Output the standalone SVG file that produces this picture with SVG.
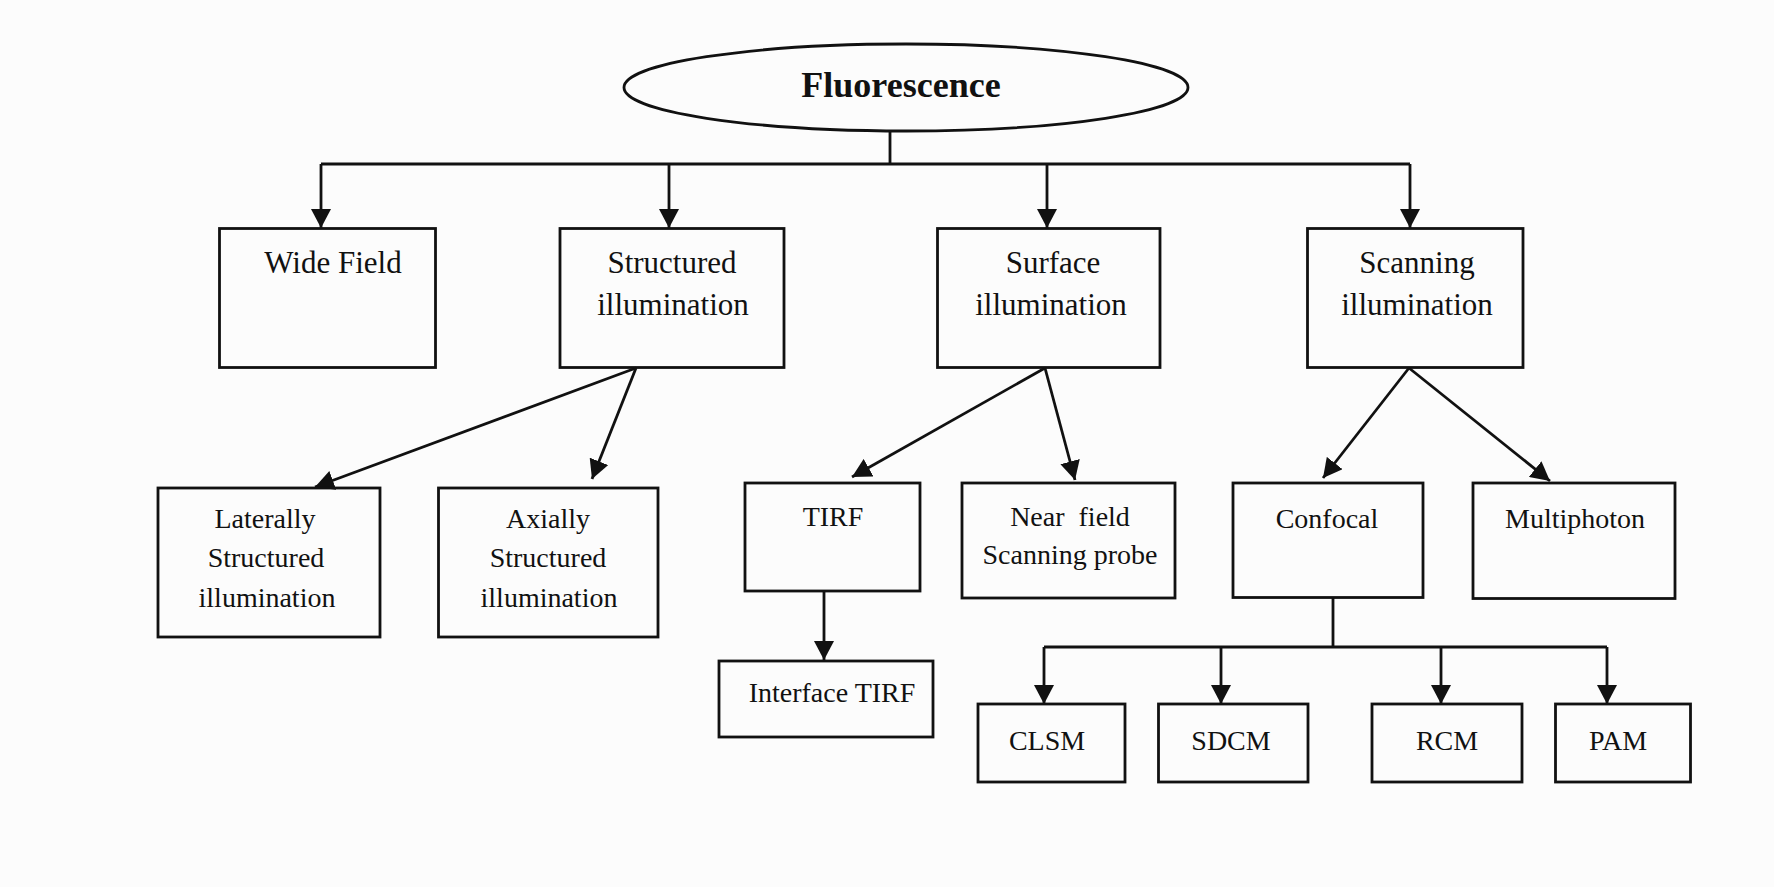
<svg xmlns="http://www.w3.org/2000/svg" width="1774" height="887" viewBox="0 0 1774 887">
<style>
.box{fill:none;stroke:#111;stroke-width:2.8}
.ln{fill:none;stroke:#111;stroke-width:2.8}
.t1{font-family:"Liberation Serif","Times New Roman",serif;font-size:31px;fill:#111;text-anchor:middle}
.t2{font-family:"Liberation Serif","Times New Roman",serif;font-size:28px;fill:#111;text-anchor:middle;white-space:pre}
.t0{font-family:"Liberation Serif","Times New Roman",serif;font-size:36px;font-weight:bold;fill:#111;text-anchor:middle}
</style>
<defs>
<marker id="ah" markerUnits="userSpaceOnUse" viewBox="0 0 19 20" markerWidth="19" markerHeight="20" refX="19" refY="10" orient="auto">
<path d="M0,0 L19,10 L0,20 z" fill="#111"/>
</marker>
</defs>
<rect width="1774" height="887" fill="#fcfcfc"/>
<g id="connectors">
<path class="ln" d="M890,131 V164"/>
<path class="ln" d="M321,164 H1410"/>
<path class="ln" d="M321,164 V228" marker-end="url(#ah)"/>
<path class="ln" d="M669,164 V228" marker-end="url(#ah)"/>
<path class="ln" d="M1047,164 V228" marker-end="url(#ah)"/>
<path class="ln" d="M1410,164 V228" marker-end="url(#ah)"/>
<path class="ln" d="M636,368 L315,487" marker-end="url(#ah)"/>
<path class="ln" d="M636,368 L592,479" marker-end="url(#ah)"/>
<path class="ln" d="M1045,368 L852,477" marker-end="url(#ah)"/>
<path class="ln" d="M1045,368 L1075,480" marker-end="url(#ah)"/>
<path class="ln" d="M1409,368 L1323,478" marker-end="url(#ah)"/>
<path class="ln" d="M1409,368 L1550,481" marker-end="url(#ah)"/>
<path class="ln" d="M824,591 V660" marker-end="url(#ah)"/>
<path class="ln" d="M1333,598 V647"/>
<path class="ln" d="M1044,647 H1607"/>
<path class="ln" d="M1044,647 V704" marker-end="url(#ah)"/>
<path class="ln" d="M1221,647 V704" marker-end="url(#ah)"/>
<path class="ln" d="M1441,647 V704" marker-end="url(#ah)"/>
<path class="ln" d="M1607,647 V704" marker-end="url(#ah)"/>
</g>
<g id="fluorescence">
<ellipse class="box" cx="906" cy="87.5" rx="282" ry="43.5"/>
<text class="t0" x="901" y="97">Fluorescence</text>
</g>
<g id="wide-field">
<rect class="box" x="219.5" y="228.5" width="216" height="139"/>
<text class="t1" x="333" y="273">Wide Field</text>
</g>
<g id="structured">
<rect class="box" x="560" y="228.5" width="224" height="139"/>
<text class="t1" x="672" y="273">Structured</text>
<text class="t1" x="673" y="315">illumination</text>
</g>
<g id="surface">
<rect class="box" x="937.5" y="228.5" width="222.5" height="139"/>
<text class="t1" x="1053" y="273">Surface</text>
<text class="t1" x="1051" y="315">illumination</text>
</g>
<g id="scanning">
<rect class="box" x="1307.5" y="228.5" width="215.5" height="139"/>
<text class="t1" x="1417" y="273">Scanning</text>
<text class="t1" x="1417" y="315">illumination</text>
</g>
<g id="laterally">
<rect class="box" x="158" y="488" width="222" height="149"/>
<text class="t2" x="265" y="528">Laterally</text>
<text class="t2" x="266" y="567">Structured</text>
<text class="t2" x="267" y="607">illumination</text>
</g>
<g id="axially">
<rect class="box" x="438.5" y="488" width="219.5" height="149"/>
<text class="t2" x="548" y="528">Axially</text>
<text class="t2" x="548" y="567">Structured</text>
<text class="t2" x="549" y="607">illumination</text>
</g>
<g id="tirf">
<rect class="box" x="745" y="483" width="175" height="108"/>
<text class="t2" x="833" y="526">TIRF</text>
</g>
<g id="near-field">
<rect class="box" x="962" y="483" width="213" height="115"/>
<text class="t2" x="1070" y="526">Near  field</text>
<text class="t2" x="1070" y="564">Scanning probe</text>
</g>
<g id="confocal">
<rect class="box" x="1233" y="483" width="190" height="114.5"/>
<text class="t2" x="1327" y="528">Confocal</text>
</g>
<g id="multiphoton">
<rect class="box" x="1473" y="483" width="202" height="115.5"/>
<text class="t2" x="1575" y="528">Multiphoton</text>
</g>
<g id="interface-tirf">
<rect class="box" x="719" y="661" width="214" height="76"/>
<text class="t2" x="832" y="702">Interface TIRF</text>
</g>
<g id="clsm">
<rect class="box" x="978" y="704" width="147" height="78"/>
<text class="t2" x="1047" y="750">CLSM</text>
</g>
<g id="sdcm">
<rect class="box" x="1158.5" y="704" width="149.5" height="78"/>
<text class="t2" x="1231" y="750">SDCM</text>
</g>
<g id="rcm">
<rect class="box" x="1372" y="704" width="150" height="78"/>
<text class="t2" x="1447" y="750">RCM</text>
</g>
<g id="pam">
<rect class="box" x="1555.5" y="704" width="135" height="78"/>
<text class="t2" x="1618" y="750">PAM</text>
</g>
</svg>
